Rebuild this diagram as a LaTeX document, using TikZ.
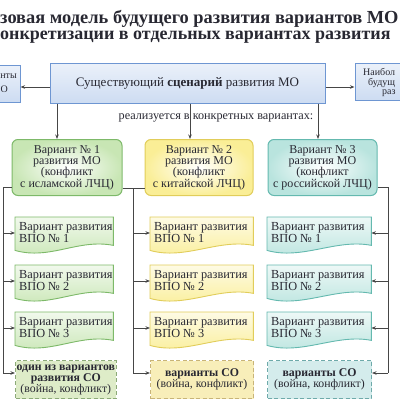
\documentclass[tikz,border=0pt]{standalone}
\usepackage{fontspec}
\setmainfont{Liberation Serif}
\usetikzlibrary{arrows.meta,backgrounds,calc}
\definecolor{linec}{RGB}{70,70,70}
\definecolor{txt}{RGB}{40,40,50}
\definecolor{blueB}{RGB}{110,150,210}
\definecolor{blueF}{RGB}{205,220,242}
\definecolor{greenB}{RGB}{125,185,105}
\definecolor{greenF}{RGB}{200,230,180}
\definecolor{greenD}{RGB}{140,170,120}
\definecolor{greenE}{RGB}{222,236,200}
\definecolor{yelB}{RGB}{225,205,90}
\definecolor{yelF}{RGB}{250,238,150}
\definecolor{yelD}{RGB}{200,180,120}
\definecolor{yelE}{RGB}{248,238,185}
\definecolor{tealB}{RGB}{100,185,175}
\definecolor{tealF}{RGB}{185,228,222}
\definecolor{tealD}{RGB}{110,170,170}
\definecolor{tealE}{RGB}{212,236,236}
\newcommand\docshape[3]{%
\begin{pgfonlayer}{background}
\shade[top color=#2!25, bottom color=#2, draw=#3, line width=0.9pt]
 (#1.north west) -- (#1.south west)
 .. controls ([xshift=35pt,yshift=-10pt]#1.south west) and ([xshift=-35pt,yshift=12pt]#1.south east)
 .. ([yshift=5pt]#1.south east) -- (#1.north east) -- cycle;
\end{pgfonlayer}}
\begin{document}
\begin{tikzpicture}[x=1pt,y=-1pt,
 every node/.style={text=txt},
 conn/.style={draw=linec, line width=0.9pt},
 arr/.style={conn, -{Stealth[length=4.5pt,width=3.5pt]}},
 vbox/.style={draw=#1B, line width=1pt, rounded corners=6pt, inner color=white, outer color=#1F, align=center, font=\fontsize{12}{11.3}\selectfont, minimum height=56pt, inner sep=1pt},
 docframe/.style={anchor=north west, minimum height=33pt, inner sep=0pt},
 doctxt/.style={anchor=west, inner sep=0pt, align=left, font=\fontsize{12.3}{11.5}\selectfont},
 dbox/.style={draw=#1D, fill=#1E, dash pattern=on 4pt off 2.5pt, line width=1pt, anchor=north west, minimum height=38pt, align=center, font=\fontsize{11.8}{11}\selectfont, inner sep=1pt},
 sidebox/.style={draw=blueB, line width=1pt, top color=blueF!40, bottom color=blueF},
 frag/.style={inner sep=0, font=\fontsize{10}{10}\selectfont},
]
\useasboundingbox (0,0) rectangle (400,400);
\clip (0,0) rectangle (400,400);
% title
\node[anchor=west, inner sep=0, font=\bfseries\fontsize{18.4}{18}\selectfont] (t1) at (0,18.5) {зовая модель будущего развития вариантов МО};
\node[anchor=west, inner sep=0, font=\bfseries\fontsize{18}{18}\selectfont] (t2) at (0,37.5) {онкретизации в отдельных вариантах развития};
% top row
\node[sidebox, minimum width=275pt, minimum height=40pt, font=\fontsize{13}{13}\selectfont] (main) at (187.5,83) {Существующий \textbf{сценарий} развития МО};
\node[sidebox, minimum width=40pt, minimum height=37pt] (lb) at (0,83.5) {};
\node[frag, anchor=east] (lbt1) at (17,76) {нты};
\node[frag, anchor=east] (lbt2) at (8,89) {О};
\node[sidebox, minimum width=65pt, minimum height=37pt] (rb) at (387.5,81.5) {};
\node[frag, anchor=west] (rbt1) at (363,72) {Наибол};
\node[frag, anchor=west] (rbt2) at (368,82.5) {будущ};
\node[frag, anchor=west] (rbt3) at (382,93) {раз};
\coordinate (ah) at (0,87);
\draw[arr] (main.west |- ah) -- (lb.east |- ah);
\draw[arr] (main.east |- ah) -- (rb.west |- ah);
\node[font=\fontsize{12.2}{12}\selectfont, inner sep=0] (lab) at (216,118) {реализуется в конкретных вариантах:};
% variant boxes
\node[vbox=green, minimum width=110pt] (v1) at (67,167.5) {Вариант № 1\\развития МО\\(конфликт\\с исламской ЛЧЦ)};
\node[vbox=yel, minimum width=108pt] (v2) at (199,167.5) {Вариант № 2\\развития МО\\(конфликт\\с китайской ЛЧЦ)};
\node[vbox=teal, minimum width=109pt] (v3) at (322.5,167.5) {Вариант № 3\\развития МО\\(конфликт\\с российской ЛЧЦ)};
\coordinate (x1) at (57,0); \coordinate (x2) at (190,0); \coordinate (x3) at (318,0);
\draw[arr] (main.south -| x1) -- (v1.north -| x1);
\draw[arr] (main.south -| x2) -- (v2.north -| x2);
\draw[arr] (main.south -| x3) -- (v3.north -| x3);
% sub boxes
\foreach \c/\l/\w/\col/\bc in {1/15/98/greenF/greenB, 2/150/103/yelF/yelB, 3/267/104/tealF/tealB}{
 \foreach \r/\t in {1/217, 2/265, 3/312}{
  \node[docframe, minimum width=\w pt] (s\c\r) at (\l,\t) {};
  \node[doctxt] (s\c\r t) at ([xshift=4pt,yshift=1pt]s\c\r.west) {Вариант развития\\ВПО № \r};
  \docshape{s\c\r}{\col}{\bc}
 }
}
\node[dbox=green, minimum width=98pt] (d1) at (15,360) {\textbf{один из вариантов}\\\textbf{развития СО}\\(война, конфликт)};
\node[dbox=yel, minimum width=103pt] (d2) at (150,360) {\textbf{варианты СО}\\(война, конфликт)};
\node[dbox=teal, minimum width=104pt] (d3) at (267,360) {\textbf{варианты СО}\\(война, конфликт)};
% branch lines
\coordinate (b1) at (3,187); \coordinate (b2) at (133,188); \coordinate (b3) at (388,187);
\coordinate (bend) at (0,373);
\draw[conn] (v1.west |- b1) -- (b1) -- (b1 |- bend);
\draw[conn] (v1.east |- b2) -- (v2.west |- b2);
\draw[conn] (b2) -- (b2 |- bend);
\draw[conn] (v3.east |- b3) -- (b3) -- (b3 |- bend);
\foreach \r in {1,2,3}{
 \coordinate (a1\r) at ($(s1\r.north west)+(0,16)$);
 \coordinate (a2\r) at ($(s2\r.north west)+(0,16)$);
 \coordinate (a3\r) at ($(s3\r.north east)+(0,16)$);
 \draw[arr] (b1 |- a1\r) -- (a1\r);
 \draw[arr] (b2 |- a2\r) -- (a2\r);
 \draw[arr] (b3 |- a3\r) -- (a3\r);
}
\draw[arr] (b1 |- bend) -- (d1.west |- bend);
\draw[arr] (b2 |- bend) -- (d2.west |- bend);
\draw[arr] (b3 |- bend) -- (d3.east |- bend);
\end{tikzpicture}
\end{document}
